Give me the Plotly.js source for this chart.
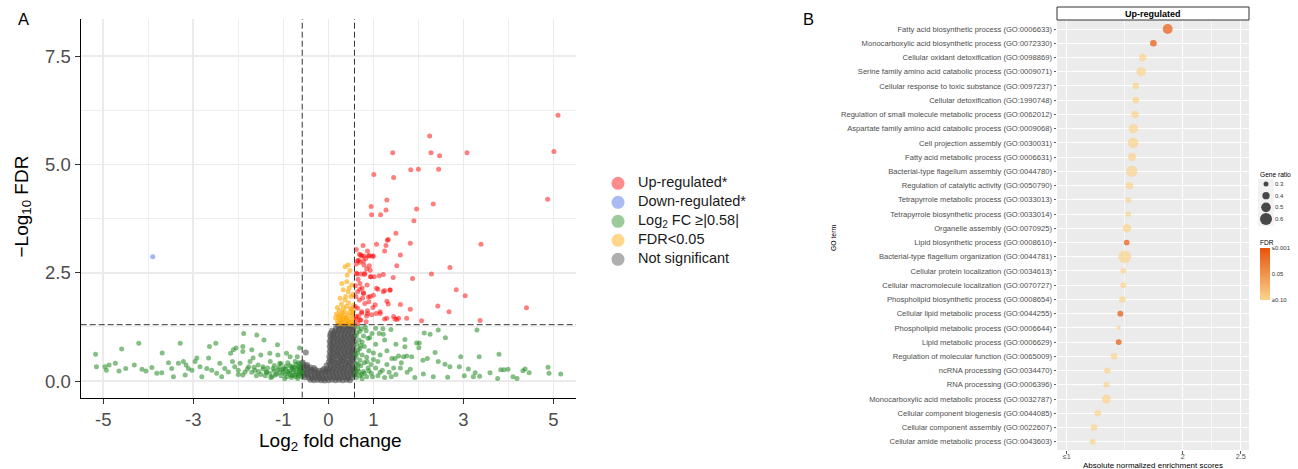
<!DOCTYPE html>
<html><head><meta charset="utf-8">
<script src="https://cdn.plot.ly/plotly-3.0.1.min.js"></script>
<style>html,body{margin:0;padding:0;background:#fff}#chart{width:1298px;height:469px}</style>
</head><body><div id="chart"></div>
<script>
// ---------------- Panel A data (volcano) ----------------
const upX = [5.10,5.01,4.87,2.25,1.43,2.28,2.47,3.08,1.83,2.00,
  2.45,1.01,1.45,1.30,0.95,1.28,0.96,1.16,1.96,2.33,
  1.90,1.50,1.33,1.31,3.39,1.07,1.28,1.82,1.25,1.60,
  0.77,0.62,0.69,0.74,0.79,0.98,0.87,0.83,0.65,0.70,
  0.78,0.62,0.91,1.52,2.70,0.91,0.85,0.93,2.29,1.44,
  1.22,1.13,1.02,0.94,0.80,0.72,0.63,1.87,2.84,3.04,
  1.10,1.25,1.37,1.00,0.89,0.78,0.70,1.30,1.33,1.60,
  2.43,1.82,2.68,4.40,1.48,1.56,1.74,1.25,2.07,3.37,
  0.96,1.06,1.15,0.87,0.85,0.74,0.67,0.62,0.72,0.72,
  0.89,1.00,0.67,0.79,0.63,0.81,0.94,0.70,0.86,1.07,
  0.65,0.78,0.93,0.69,0.81,1.04,0.65,0.74,0.87,1.15,
  0.62,0.70,0.84,0.65,1.30,1.45,1.52,1.22,1.37,0.60,
  0.61,0.60,0.66,0.75,0.99,0.76,0.90];
const upY = [6.14,5.30,4.20,5.66,5.27,5.27,5.20,5.27,4.88,4.89,
  4.89,4.77,4.70,4.18,4.03,3.95,3.84,3.84,3.97,4.09,
  3.70,3.41,3.27,3.25,3.16,3.16,3.13,3.18,3.00,2.91,
  3.13,3.04,2.93,2.89,2.89,2.88,3.00,2.83,2.78,2.74,
  2.77,2.70,2.90,2.66,2.62,2.66,2.59,2.56,2.47,2.39,
  2.46,2.43,2.41,2.41,2.46,2.47,2.47,2.37,2.11,1.97,
  2.12,2.09,2.10,1.98,1.94,2.04,2.12,1.84,1.78,1.77,
  1.73,1.66,1.60,1.69,1.43,1.45,1.45,1.43,1.39,1.40,
  1.53,1.56,1.56,1.62,1.50,1.57,1.50,1.43,1.41,2.91,
  2.89,2.89,2.79,2.68,2.49,2.49,2.41,2.25,2.22,2.14,
  2.06,2.02,1.95,1.87,1.79,1.76,1.68,1.60,1.56,1.60,
  1.49,1.41,1.37,1.33,1.45,1.49,1.42,2.06,2.10,2.20,
  1.95,1.72,2.35,2.15,1.70,1.92,1.83];

const downX = [-3.90];
const downY = [2.87];

const fdrX = [0.44,0.37,0.48,0.42,0.30,0.41,0.52,0.33,0.44,0.26,
  0.37,0.50,0.55,0.29,0.45,0.56,0.20,0.33,0.40,0.52,
  0.24,0.36,0.47,0.56,0.18,0.28,0.42,0.53,0.16,0.25,
  0.33,0.40,0.48,0.57,0.20,0.30,0.38,0.45,0.52,0.57,
  0.22,0.28,0.35,0.43,0.50,0.55,0.31,0.49,0.38,0.23,
  0.46,0.35,0.27,0.41,0.54];
const fdrY = [2.68,2.64,2.55,2.45,2.25,2.29,2.22,2.11,2.06,1.91,
  1.87,1.95,2.00,1.78,1.80,1.75,1.70,1.68,1.72,1.65,
  1.62,1.60,1.58,1.60,1.55,1.52,1.52,1.50,1.46,1.45,
  1.44,1.46,1.43,1.42,1.38,1.37,1.36,1.38,1.36,1.34,
  1.32,1.33,1.31,1.32,1.31,1.31,1.57,1.68,1.95,1.50,
  2.15,1.48,1.40,1.40,1.55];

const fcLeftX = [-5.17,-5.15,-4.96,-4.87,-4.93,-4.73,-4.59,-4.65,-4.50,-4.31,
  -4.21,-4.14,-4.05,-3.92,-3.81,-3.69,-3.70,-3.55,-3.48,-3.44,
  -3.29,-3.33,-3.22,-3.16,-3.11,-3.18,-3.03,-2.96,-2.92,-2.85,
  -2.81,-2.70,-2.66,-2.64,-2.59,-2.50,-2.48,-2.41,-2.37,-2.30,
  -2.22,-2.17,-2.11,-2.05,-2.13,-2.08,-2.00,-1.90,-1.90,-1.96,
  -1.88,-1.85,-1.77,-1.70,-1.74,-1.67,-1.59,-1.63,-1.56,-1.50,
  -1.43,-1.45,-1.37,-1.30,-1.29,-1.23,-1.13,-1.12,-1.08,-1.00,
  -0.93,-0.85,-0.81,-0.78,-0.69,-0.64,-0.67,
  -1.55,-1.50,-1.45,-1.40,-1.35,-1.30,-1.25,-1.20,-1.15,-1.10,
  -1.05,-1.00,-0.95,-0.92,-0.88,-0.85,-0.82,-0.78,-0.75,-0.72,
  -0.70,-0.68,-0.65,-0.62,-0.60,-0.63,-0.74,-0.90,-1.05,-1.20,
  -1.28,-1.60,-1.70,-1.80,-1.90,-0.97,-0.80,-0.66,-0.61,-0.70,
  -0.86,-1.12,-1.38,-1.65,-2.00,-1.18,-1.02,-0.90,-0.76,-0.64,
  -0.59,-0.72,-0.84,-0.96,-1.08,-0.68,-0.62,-0.80,-0.94,-0.58,
  -0.66];
const fcLeftY = [0.62,0.33,0.33,0.37,0.25,0.41,0.74,0.23,0.29,0.37,
  0.87,0.27,0.23,0.31,0.18,0.65,0.19,0.42,0.29,0.10,
  0.87,0.41,0.45,0.37,0.29,0.14,0.25,0.45,0.53,0.33,
  0.10,0.29,0.53,0.80,0.25,0.87,0.18,0.41,0.10,0.29,
  0.21,0.64,0.72,0.76,0.45,0.33,0.25,0.80,0.68,0.41,
  1.10,0.21,0.33,0.72,0.45,0.53,1.06,0.25,0.37,0.60,
  0.95,0.33,0.21,0.64,0.45,0.29,0.84,0.60,0.41,0.29,
  0.64,0.56,0.33,0.21,0.56,0.76,0.33,
  0.22,0.15,0.28,0.12,0.30,0.18,0.10,0.24,0.16,0.32,
  0.12,0.20,0.28,0.10,0.18,0.35,0.08,0.26,0.14,0.38,
  0.20,0.06,0.30,0.16,0.24,0.40,0.45,0.42,0.40,0.36,
  0.08,0.12,0.20,0.28,0.14,0.05,0.12,0.12,0.33,0.28,
  0.24,0.26,0.20,0.32,0.15,0.14,0.26,0.22,0.32,0.22,
  0.10,0.10,0.14,0.16,0.20,0.16,0.28,0.30,0.34,0.18,
  0.42];
const fcRightX = [3.30,2.44,2.13,2.26,2.60,1.70,1.96,2.02,2.01,1.70,
  1.39,1.21,1.13,1.22,0.73,0.84,0.97,0.78,0.88,2.37,
  3.79,3.35,2.94,2.20,2.10,1.85,1.74,1.67,1.56,1.48,
  1.41,2.70,2.59,2.44,2.91,3.11,3.26,3.36,3.59,3.83,
  3.90,3.99,4.10,4.19,4.32,4.37,4.46,4.88,4.90,5.16,
  3.76,3.02,3.22,2.65,2.33,2.11,1.92,1.82,
  0.65,0.70,0.62,0.68,0.75,0.63,0.80,0.70,0.65,0.90,
  0.75,0.85,0.62,0.70,1.00,0.80,0.62,0.95,1.10,0.72,
  0.88,0.65,1.05,0.78,0.62,1.20,0.95,0.70,1.35,0.85,
  0.62,1.10,1.50,1.25,0.75,1.60,1.30,1.45,1.15,1.05,
  0.92,1.30,1.50,1.25,1.62,1.75,1.00,0.82,1.05,0.66,
  0.60,0.68,0.74,0.66,0.60,0.80,0.90,0.60,0.64,0.72,
  1.15,1.40,0.98,0.86];
const fcRightY = [1.18,1.18,1.11,1.08,1.00,0.96,0.88,0.88,0.77,0.79,
  1.19,1.21,1.10,1.08,1.21,1.16,1.10,1.04,0.99,0.66,
  0.62,0.56,0.56,0.52,0.48,0.56,0.58,0.56,0.58,0.52,
  0.52,0.33,0.39,0.45,0.33,0.28,0.19,0.11,0.19,0.26,
  0.26,0.27,0.10,0.06,0.24,0.28,0.19,0.32,0.18,0.16,
  0.06,0.12,0.10,0.09,0.10,0.16,0.08,0.27,
  1.25,1.15,1.05,0.95,0.90,0.85,0.80,0.75,0.65,0.70,
  0.60,0.55,0.55,0.48,0.50,0.42,0.40,0.38,0.45,0.35,
  0.30,0.28,0.30,0.22,0.20,0.25,0.18,0.12,0.20,0.10,
  0.08,0.12,0.15,0.08,0.05,0.30,0.38,0.30,0.60,0.85,
  1.00,0.70,0.85,0.95,0.42,0.20,0.65,1.25,1.22,0.72,
  0.15,0.22,0.15,0.38,0.30,0.18,0.24,0.62,1.12,0.82,
  0.20,0.10,0.10,0.45];

const nsX = [
  0.22,0.30,0.38,0.46,0.53,
  0.17,0.26,0.34,0.42,0.50,0.56,
  0.08,0.15,0.23,0.31,0.39,0.47,0.55,
  0.05,0.12,0.20,0.28,0.36,0.44,0.52,
  0.04,0.11,0.18,0.27,0.35,0.43,0.51,0.57,
  0.06,0.14,0.22,0.30,0.38,0.47,0.55,
  0.03,0.10,0.19,0.26,0.34,0.42,0.50,0.57,
  0.05,0.13,0.21,0.29,0.37,0.45,0.53,
  0.03,0.09,0.17,0.25,0.33,0.41,0.49,0.56,
  0.06,0.14,0.22,0.30,0.38,0.46,0.54,
  0.03,0.10,0.18,0.26,0.35,0.43,0.51,0.57,
  0.05,0.13,0.21,0.29,0.37,0.45,0.53,
  0.02,0.09,0.17,0.25,0.33,0.41,0.49,0.56,
  0.04,0.12,0.20,0.28,0.36,0.44,0.52,
  -0.57,0.01,0.08,0.16,0.24,0.32,0.40,0.48,0.56,
  -0.55,-0.47,-0.04,0.04,0.12,0.20,0.28,0.36,0.44,0.52,
  -0.56,-0.48,-0.40,-0.32,-0.10,-0.02,0.06,0.14,0.22,0.30,0.38,0.46,0.54,
  -0.53,-0.45,-0.37,-0.29,-0.21,-0.13,-0.05,0.03,0.11,0.19,0.27,0.35,0.43,0.51,0.57,
  -0.56,-0.48,-0.40,-0.32,-0.24,-0.16,-0.08,0.00,0.08,0.16,0.24,0.32,0.40,0.48,0.56,
  -0.54,-0.46,-0.38,-0.30,-0.22,-0.14,-0.06,0.02,0.10,0.18,0.26,0.34,0.42,0.50,0.57,
  -0.52,-0.44,-0.36,-0.28,-0.20,-0.12,-0.04,0.04,0.12,0.20,0.28,0.36,0.44,0.52,
  -0.40,-0.32,-0.24,-0.16,-0.08,0.00,0.08,0.16,0.24,0.32,0.40,0.48,
  -0.50];
const nsY = [
  1.27,1.28,1.26,1.28,1.27,
  1.22,1.21,1.23,1.22,1.21,1.23,
  1.16,1.15,1.17,1.16,1.15,1.17,1.16,
  1.10,1.11,1.09,1.10,1.11,1.09,1.10,
  1.04,1.03,1.05,1.04,1.03,1.05,1.04,1.03,
  0.98,0.99,0.97,0.98,0.99,0.97,0.98,
  0.92,0.91,0.93,0.92,0.91,0.93,0.92,0.91,
  0.86,0.87,0.85,0.86,0.87,0.85,0.86,
  0.80,0.79,0.81,0.80,0.79,0.81,0.80,0.79,
  0.74,0.75,0.73,0.74,0.75,0.73,0.74,
  0.68,0.67,0.69,0.68,0.67,0.69,0.68,0.67,
  0.62,0.63,0.61,0.62,0.63,0.61,0.62,
  0.56,0.55,0.57,0.56,0.55,0.57,0.56,0.55,
  0.50,0.51,0.49,0.50,0.51,0.49,0.50,
  0.43,0.44,0.45,0.43,0.44,0.45,0.43,0.44,0.45,
  0.38,0.37,0.36,0.38,0.39,0.37,0.38,0.39,0.37,0.38,
  0.32,0.33,0.31,0.30,0.28,0.29,0.32,0.31,0.33,0.32,0.31,0.33,0.32,
  0.26,0.27,0.25,0.26,0.24,0.25,0.23,0.26,0.27,0.25,0.26,0.27,0.25,0.26,0.27,
  0.20,0.19,0.21,0.20,0.19,0.18,0.19,0.20,0.21,0.19,0.20,0.21,0.19,0.20,0.21,
  0.14,0.15,0.13,0.14,0.13,0.12,0.13,0.14,0.15,0.13,0.14,0.15,0.13,0.14,0.15,
  0.09,0.08,0.07,0.08,0.07,0.06,0.07,0.08,0.09,0.07,0.08,0.09,0.07,0.08,
  0.03,0.02,0.03,0.02,0.01,0.02,0.03,0.02,0.03,0.02,0.03,0.02,
  0.66];

const volcanoXTicks = [-5,-3,-1,0,1,3,5];
const volcanoXTickText = ['-5','-3','-1','0','1','3','5'];
const volcanoYTicks = [0,2.5,5,7.5];
const volcanoYTickText = ['0.0','2.5','5.0','7.5'];
const legendLabels = ['Up-regulated*','Down-regulated*','Log<sub>2</sub> FC \u2265|0.58|','FDR&lt;0.05','Not significant'];

// ---------------- Panel B data (GO enrichment) ----------------
const goTerms = [
  'Fatty acid biosynthetic process (GO:0006633)',
  'Monocarboxylic acid biosynthetic process (GO:0072330)',
  'Cellular oxidant detoxification (GO:0098869)',
  'Serine family amino acid catabolic process (GO:0009071)',
  'Cellular response to toxic substance (GO:0097237)',
  'Cellular detoxification (GO:1990748)',
  'Regulation of small molecule metabolic process (GO:0062012)',
  'Aspartate family amino acid catabolic process (GO:0009068)',
  'Cell projection assembly (GO:0030031)',
  'Fatty acid metabolic process (GO:0006631)',
  'Bacterial-type flagellum assembly (GO:0044780)',
  'Regulation of catalytic activity (GO:0050790)',
  'Tetrapyrrole metabolic process (GO:0033013)',
  'Tetrapyrrole biosynthetic process (GO:0033014)',
  'Organelle assembly (GO:0070925)',
  'Lipid biosynthetic process (GO:0008610)',
  'Bacterial-type flagellum organization (GO:0044781)',
  'Cellular protein localization (GO:0034613)',
  'Cellular macromolecule localization (GO:0070727)',
  'Phospholipid biosynthetic process (GO:0008654)',
  'Cellular lipid metabolic process (GO:0044255)',
  'Phospholipid metabolic process (GO:0006644)',
  'Lipid metabolic process (GO:0006629)',
  'Regulation of molecular function (GO:0065009)',
  'ncRNA processing (GO:0034470)',
  'RNA processing (GO:0006396)',
  'Monocarboxylic acid metabolic process (GO:0032787)',
  'Cellular component biogenesis (GO:0044085)',
  'Cellular component assembly (GO:0022607)',
  'Cellular amide metabolic process (GO:0043603)'];
const nes = [1.870,1.747,1.655,1.641,1.595,1.595,1.589,1.574,1.572,1.563,
  1.560,1.540,1.531,1.531,1.520,1.517,1.500,1.488,1.488,1.480,
  1.462,1.448,1.448,1.408,1.350,1.342,1.342,1.267,1.235,1.224];
const geneRatio = [0.51,0.37,0.40,0.49,0.37,0.37,0.40,0.49,0.54,0.43,
  0.57,0.40,0.33,0.33,0.44,0.33,0.63,0.33,0.33,0.36,
  0.34,0.27,0.34,0.36,0.36,0.34,0.47,0.36,0.36,0.34];
const fdr = [0.005,0.001,0.1,0.1,0.1,0.1,0.1,0.1,0.1,0.1,
  0.1,0.1,0.1,0.1,0.1,0.004,0.1,0.1,0.1,0.1,
  0.002,0.1,0.003,0.1,0.1,0.1,0.1,0.1,0.1,0.1];
const nesTicks = [1,2,2.5];
const nesTickText = ['\u22641','2','2.5'];
const sizeBreaks = [0.3,0.4,0.5,0.6];
const sizeBreakText = ['0.3','0.4','0.5','0.6'];
const fdrTicks = [0.001,0.05,0.1];
const fdrTickText = ['\u22640.001','0.05','\u22650.10'];

// ---------------- Layout helpers & styles ----------------
const W = 1298, H = 469;
const px = v => v / W, py = v => 1 - v / H;
const FONT = 'Liberation Sans, Arial, Helvetica, sans-serif';
const FC_CUT = 0.58, FDR_CUT = -Math.log10(0.05);
const ratioToPx = r => 5 + (r - 0.3) * 23.3;
const neg = v => -v;   // colour bar runs from small FDR (top) to large FDR (bottom)
const legendColors = ['#FF0000','#4169E1','#228B22','#FFA500','#4D4D4D'];
const LEG_MARK_X = 18, LEG_TEXT_X = 38;

const pts = (x, y, color, op, size) => ({type:'scatter', mode:'markers', x, y, xaxis:'x', yaxis:'y',
  marker:{color, opacity:op, size, line:{width:0}}, showlegend:false, hoverinfo:'skip'});

const traces = [
  pts(nsX, nsY, '#4D4D4D', 0.6, 6),
  pts(fcLeftX.concat(fcRightX), fcLeftY.concat(fcRightY), '#228B22', 0.55, 5),
  pts(fdrX, fdrY, '#FFA500', 0.6, 5),
  pts(upX, upY, '#FF0000', 0.5, 5),
  pts(downX, downY, '#4169E1', 0.5, 5),
  {type:'scatter', mode:'markers', x:legendLabels.map(()=>LEG_MARK_X), y:legendLabels.map((_,i)=>i),
   xaxis:'x4', yaxis:'y4', cliponaxis:false, showlegend:false, hoverinfo:'skip',
   marker:{color:legendColors, opacity:0.45, size:13, line:{width:0}}},
  {type:'scatter', mode:'text', x:legendLabels.map(()=>LEG_TEXT_X), y:legendLabels.map((_,i)=>i),
   xaxis:'x4', yaxis:'y4', cliponaxis:false, showlegend:false, hoverinfo:'skip',
   text:legendLabels, textposition:'middle right', textfont:{family:FONT, size:14.5, color:'#1a1a1a'}},
  {type:'scatter', mode:'markers', x:nes, y:goTerms, xaxis:'x2', yaxis:'y2', showlegend:false, hoverinfo:'skip',
   marker:{size:geneRatio.map(ratioToPx), color:fdr.map(neg), cmin:-0.1, cmax:-0.001,
     colorscale:[[0,'#FBD48C'],[1,'#E8530A']], showscale:true, line:{width:0},
     colorbar:{x:px(1260), xanchor:'left', xpad:0, y:py(248), yanchor:'top', ypad:0,
       len:52, lenmode:'pixels', thickness:10, thicknessmode:'pixels', outlinewidth:0,
       tickvals:fdrTicks.map(neg), ticktext:fdrTickText, ticks:'',
       tickfont:{family:FONT, size:6, color:'#333'}, title:{text:''}}}},
  {type:'scatter', mode:'markers', x:sizeBreaks.map(()=>0), y:sizeBreaks, xaxis:'x3', yaxis:'y3',
   cliponaxis:false, showlegend:false, hoverinfo:'skip',
   marker:{size:sizeBreaks.map(ratioToPx), color:'#000', line:{width:0}}}
];

const ann = (text, x, y, size, extra) => Object.assign({text, x:px(x), y:py(y), xref:'paper', yref:'paper',
  showarrow:false, xanchor:'center', yanchor:'middle', font:{size, color:'#000'}}, extra || {});

const layout = {
  width:W, height:H, margin:{l:0,r:0,t:0,b:0}, paper_bgcolor:'#fff', plot_bgcolor:'rgba(0,0,0,0)',
  font:{family:FONT, color:'#000'}, showlegend:false,
  xaxis:{domain:[px(80.7),px(576)], range:[-5.5,5.5], anchor:'y', tickvals:volcanoXTicks, ticktext:volcanoXTickText,
    ticks:'outside', ticklen:5, tickwidth:1, tickcolor:'#333', showline:true, linecolor:'#000', linewidth:1.2,
    showgrid:true, gridcolor:'#EBEBEB', gridwidth:1.6, zeroline:false,
    tickfont:{size:18.5, color:'#4D4D4D'},
    minor:{tickvals:[-4,-2,2,4], showgrid:true, gridcolor:'#EEEEEE', gridwidth:1, ticks:''}},
  yaxis:{domain:[py(397.7),py(19)], range:[-0.385,8.36], anchor:'x', tickvals:volcanoYTicks, ticktext:volcanoYTickText,
    ticks:'outside', ticklen:5, tickwidth:1, tickcolor:'#333', showline:true, linecolor:'#000', linewidth:1.2,
    showgrid:true, gridcolor:'#EBEBEB', gridwidth:1.6, zeroline:false,
    tickfont:{size:18.5, color:'#4D4D4D'},
    minor:{tickvals:[1.25,3.75,6.25], showgrid:true, gridcolor:'#EEEEEE', gridwidth:1, ticks:''}},
  xaxis2:{domain:[px(1057),px(1249)], range:[0.916,2.571], anchor:'y2', tickvals:nesTicks, ticktext:nesTickText,
    ticks:'outside', ticklen:2.5, tickwidth:0.8, tickcolor:'#333', showline:false, zeroline:false,
    ticklabelstandoff:-3,
    showgrid:true, gridcolor:'#FFFFFF', gridwidth:1, tickfont:{size:7.2, color:'#4D4D4D'},
    minor:{tickvals:[1.5,2.25], showgrid:true, gridcolor:'#FFFFFF', gridwidth:0.6, ticks:''}},
  yaxis2:{domain:[py(450),py(20)], anchor:'x2', type:'category', categoryorder:'array', categoryarray:goTerms,
    range:[29.58,-0.632], ticks:'outside', ticklen:2.5, tickwidth:0.8, tickcolor:'#333', showline:false, zeroline:false,
    showgrid:true, gridcolor:'#FFFFFF', gridwidth:1, tickfont:{size:7.6, color:'#4D4D4D'}},
  xaxis3:{domain:[px(1258),px(1274)], range:[-1,1], anchor:'y3', visible:false},
  yaxis3:{domain:[py(226),py(178)], range:[0.66,0.249], anchor:'x3', side:'right', tickvals:sizeBreaks, ticktext:sizeBreakText,
    ticks:'', showgrid:false, zeroline:false, showline:false, tickfont:{size:6, color:'#333'}},
  xaxis4:{domain:[px(600),px(800)], range:[0,200], anchor:'y4', visible:false},
  yaxis4:{domain:[py(268.8),py(173.8)], range:[4.5,-0.5], anchor:'x4', visible:false},
  shapes:[
    {type:'rect', xref:'x2 domain', yref:'y2 domain', x0:0, x1:1, y0:0, y1:1, fillcolor:'#EBEBEB', line:{width:0}, layer:'below'},
    {type:'rect', xref:'x2 domain', yref:'paper', x0:0, x1:1, y0:py(20), y1:py(7), fillcolor:'#FFFFFF', line:{color:'#333', width:1}},
    {type:'rect', xref:'paper', yref:'paper', x0:px(1258), x1:px(1274), y0:py(226), y1:py(179), fillcolor:'#F2F2F2', line:{width:0}, layer:'below'},
    {type:'line', xref:'x', yref:'y domain', x0:-FC_CUT, x1:-FC_CUT, y0:0, y1:1, line:{color:'#333', width:1, dash:'6px,3px'}},
    {type:'line', xref:'x', yref:'y domain', x0:FC_CUT, x1:FC_CUT, y0:0, y1:1, line:{color:'#333', width:1, dash:'6px,3px'}},
    {type:'line', xref:'x domain', yref:'y', x0:0, x1:1, y0:FDR_CUT, y1:FDR_CUT, line:{color:'#333', width:1, dash:'6px,3px'}}
  ],
  annotations:[
    ann('A', 23, 19, 16.5),
    ann('B', 808.5, 19, 16.5),
    ann('Log<sub>2</sub> fold change', 330, 442, 19),
    ann('\u2212Log<sub>10</sub> FDR', 22.5, 206, 19, {textangle:-90}),
    ann('GO term', 833, 238, 6.8, {textangle:-90}),
    ann('Absolute normalized enrichment scores', 1153, 465.5, 8),
    ann('<b>Up-regulated</b>', 1153, 13.5, 9),
    ann('Gene ratio', 1258, 174, 6.6, {xanchor:'left'}),
    ann('FDR', 1258, 243, 6.6, {xanchor:'left'})
  ]
};

Plotly.newPlot('chart', traces, layout, {displayModeBar:false, staticPlot:true});
</script>
</body></html>
